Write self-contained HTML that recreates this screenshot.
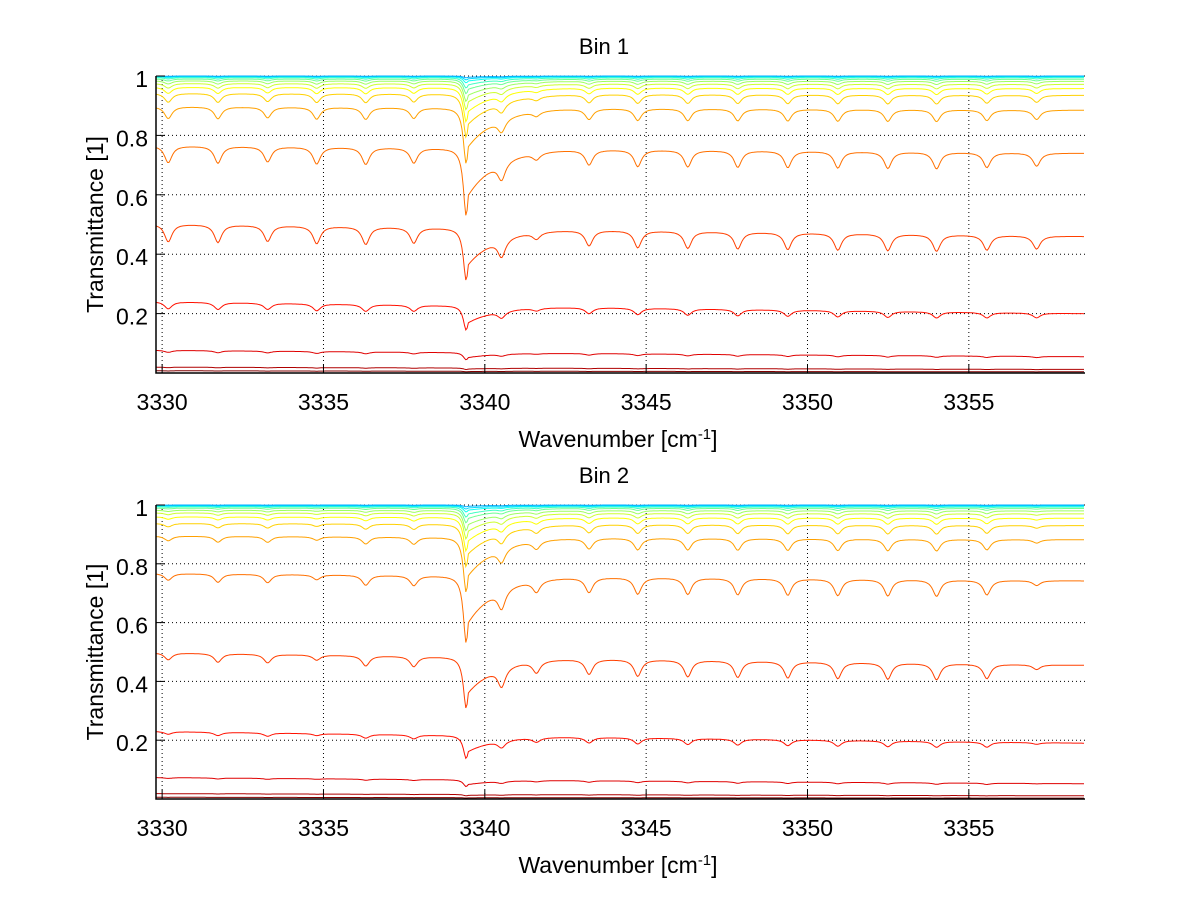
<!DOCTYPE html>
<html><head><meta charset="utf-8"><style>
html,body{margin:0;padding:0;background:#fff;}
svg{display:block;font-family:"Liberation Sans",Arial,sans-serif;}
</style></head><body>
<svg id="chart" width="1200" height="901" viewBox="0 0 1200 901" xmlns="http://www.w3.org/2000/svg"></svg>
<script>
// ---- data ----
const xTicks = [3330, 3335, 3340, 3345, 3350, 3355];
const yTicks = [0.2, 0.4, 0.6, 0.8, 1];
const yTickLabels = ["0.2", "0.4", "0.6", "0.8", "1"];
const linePositions = [3330.19, 3331.73, 3333.27, 3334.79, 3336.31, 3337.80, 3340.52, 3341.60, 3343.23, 3344.74, 3346.29, 3347.84, 3349.39, 3350.94, 3352.49, 3354.00, 3355.56, 3357.10];
const bin1LineStrength = [1.0, 1.0, 0.9, 1.0, 1.0, 0.9, 1.1, 0.4, 0.9, 1.0, 1.0, 1.0, 1.0, 1.0, 1.0, 1.0, 0.9, 0.8];
const bin2LineStrength = [0.4, 0.5, 0.5, 0.3, 0.6, 0.6, 1.2, 0.7, 0.9, 1.0, 1.0, 1.0, 1.0, 1.0, 1.0, 1.0, 0.9, 0.3];
const bigLinePosition = 3339.42;
const bin1BaseLevels = [0.004, 0.012, 0.055, 0.200, 0.460, 0.740, 0.885, 0.935, 0.958, 0.972, 0.982, 0.989, 0.994, 0.997, 0.999, 1.000];
const bin2BaseLevels = [0.003, 0.011, 0.052, 0.190, 0.455, 0.742, 0.882, 0.930, 0.955, 0.970, 0.980, 0.988, 0.993, 0.996, 0.998, 1.000];
const curveLineDepth = [0.09, 0.09, 0.09, 0.10, 0.12, 0.075, 0.045, 0.032, 0.022, 0.016, 0.011, 0.007, 0.005, 0.003, 0.002, 0.001];
const curveBigDepth = [0.30, 0.30, 0.35, 0.36, 0.36, 0.30, 0.21, 0.155, 0.12, 0.09, 0.07, 0.05, 0.035, 0.02, 0.012, 0.006];

const svg = document.getElementById('chart');
const NS = 'http://www.w3.org/2000/svg';
function mk(tag, attrs, parent) {
  const e = document.createElementNS(NS, tag);
  for (const k in attrs) e.setAttribute(k, attrs[k]);
  (parent || svg).appendChild(e);
  return e;
}
function jet(t) {
  const c = v => Math.max(0, Math.min(1, v));
  const r = c(1.5 - Math.abs(4 * t - 3)), g = c(1.5 - Math.abs(4 * t - 2)), b = c(1.5 - Math.abs(4 * t - 1));
  return 'rgb(' + Math.round(r * 255) + ',' + Math.round(g * 255) + ',' + Math.round(b * 255) + ')';
}
const X0 = 3329.81, X1 = 3358.6;

function panel(cfg) {
  const g = mk('g', {});
  
  
  const xs = v => cfg.left + (v - X0) / (X1 - X0) * (cfg.right - cfg.left);
  const ys = v => cfg.bottom - v * (cfg.bottom - cfg.top);
  xTicks.forEach(t => {
    const l = mk('line', {x1: xs(t), x2: xs(t), y1: cfg.top, y2: cfg.bottom, stroke: '#000', 'stroke-width': 1, 'stroke-dasharray': '1,3'}, g);
    
    
  });
  yTicks.forEach(t => {
    const l = mk('line', {x1: cfg.left, x2: cfg.right, y1: ys(t), y2: ys(t), stroke: '#000', 'stroke-width': 1, 'stroke-dasharray': '1,3'}, g);
    
    
  });
  const n = cfg.base.length;
  for (let k = 0; k < n; k++) {
    let d = '';
    for (let x = X0; x <= X1 + 1e-9; x += 0.04) {
      const expo = 1 - 0.004 * (X1 - x);
      let T = Math.pow(cfg.base[k], expo);
      let p = 0;
      for (let i = 0; i < linePositions.length; i++) {
        const dx = (x - linePositions[i]) / 0.14;
        p += cfg.strength[i] / (1 + dx * dx);
      }
      T *= Math.max(0, 1 - curveLineDepth[k] * p);
      const bx = x - bigLinePosition;
      let pb = 1 / (1 + (bx / 0.1) * (bx / 0.1));
      if (bx > 0) pb = Math.max(pb, 0.75 * Math.exp(-bx / 0.9));
      T *= (1 - curveBigDepth[k] * pb);
      d += (d ? 'L' : 'M') + xs(x).toFixed(1) + ',' + ys(Math.min(1, T)).toFixed(1);
    }
    const path = mk('path', {d: d, fill: 'none', stroke: jet(1 - k * 0.047), 'stroke-width': 1}, g);
    
    
  }
  const ax = mk('path', {d: 'M' + cfg.left + ',' + cfg.top + 'V' + cfg.bottom + 'H' + cfg.right, fill: 'none', stroke: '#000', 'stroke-width': 1.5}, g);
  
  
  xTicks.forEach(t => {
    const tk = mk('line', {x1: xs(t), x2: xs(t), y1: cfg.bottom, y2: cfg.bottom - 9, stroke: '#000', 'stroke-width': 1}, g);
    
    
    const tx = mk('text', {x: xs(t), y: cfg.bottom + 37, 'font-size': 23, 'text-anchor': 'middle', fill: '#000'}, g);
    tx.textContent = String(t);
    
    
  });
  yTicks.forEach((t, i) => {
    const tk = mk('line', {x1: cfg.left, x2: cfg.left + 9, y1: ys(t), y2: ys(t), stroke: '#000', 'stroke-width': 1}, g);
    
    
    const tx = mk('text', {x: cfg.left - 8, y: ys(t) + 11, 'font-size': 23, 'text-anchor': 'end', fill: '#000'}, g);
    tx.textContent = yTickLabels[i];
    
    
  });
  const title = mk('text', {x: 604, y: cfg.top - 22, 'font-size': 22, 'text-anchor': 'middle', fill: '#000'}, g);
  title.textContent = cfg.title;
  
  
  const xl = mk('text', {x: 618, y: cfg.bottom + 74, 'font-size': 23, 'text-anchor': 'middle', fill: '#000'}, g);
  xl.innerHTML = 'Wavenumber [cm<tspan baseline-shift="super" font-size="15">-1</tspan>]';
  
  
  const cy = (cfg.top + cfg.bottom) / 2;
  const yl = mk('text', {x: 103, y: cy, 'font-size': 23, 'text-anchor': 'middle', fill: '#000', transform: 'rotate(-90 103 ' + cy + ')'}, g);
  yl.textContent = 'Transmittance [1]';
  
  
}
panel({name: 'bin-1-panel', title: 'Bin 1', left: 156, right: 1085, top: 76, bottom: 373, base: bin1BaseLevels, strength: bin1LineStrength});
panel({name: 'bin-2-panel', title: 'Bin 2', left: 156, right: 1085, top: 505, bottom: 799, base: bin2BaseLevels, strength: bin2LineStrength});
</script>
</body></html>
